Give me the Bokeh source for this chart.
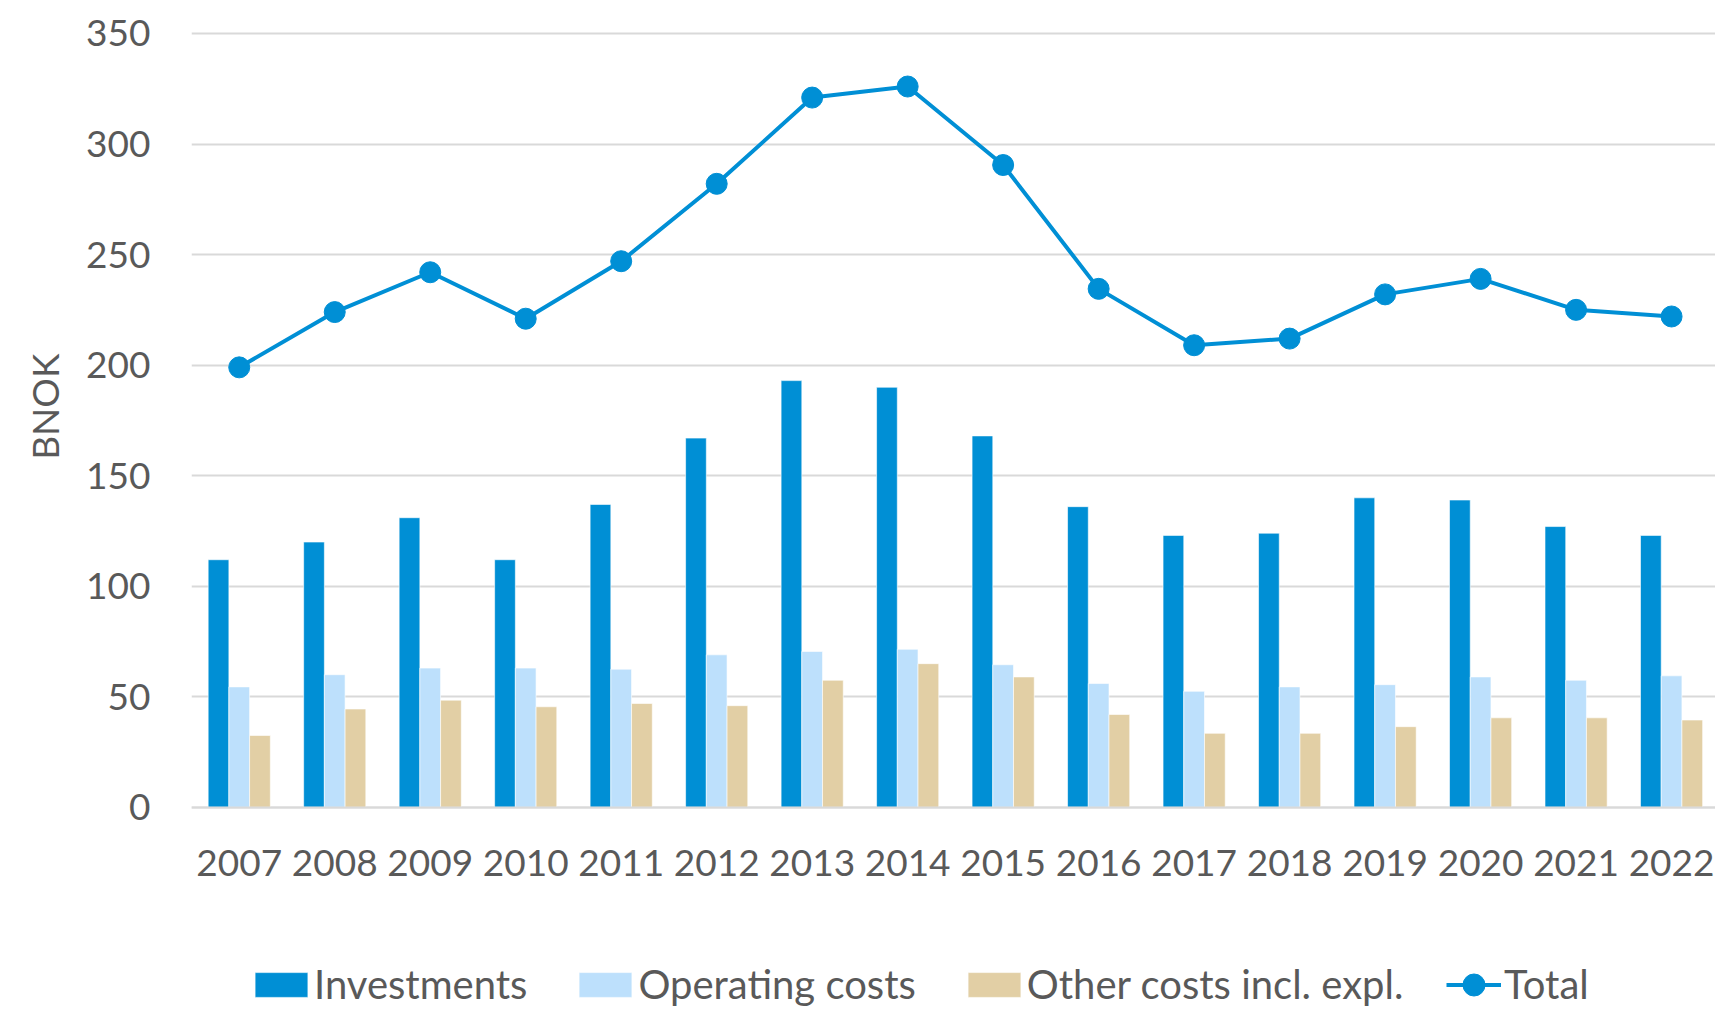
from bokeh.plotting import figure
from bokeh.models import FixedTicker, Legend, LegendItem, ColumnDataSource, Range1d, Title
from bokeh.transform import dodge
from bokeh.embed import file_html
from bokeh.resources import INLINE

years = [2007, 2008, 2009, 2010, 2011, 2012, 2013, 2014, 2015, 2016, 2017, 2018, 2019, 2020, 2021, 2022]
year_labels = ["2007", "2008", "2009", "2010", "2011", "2012", "2013", "2014",
               "2015", "2016", "2017", "2018", "2019", "2020", "2021", "2022"]
investments = [112, 120, 131, 112, 137, 167, 193, 190, 168, 136, 123, 124, 140, 139, 127, 123]
operating_costs = [54.5, 60, 63, 63, 62.5, 69, 70.5, 71.5, 64.5, 56, 52.5, 54.5, 55.5, 59, 57.5, 59.5]
other_costs = [32.5, 44.5, 48.5, 45.5, 47, 46, 57.5, 65, 59, 42, 33.5, 33.5, 36.5, 40.5, 40.5, 39.5]
total = [199, 224, 242, 221, 247, 282, 321, 326, 290.5, 234.5, 209, 212, 232, 239, 225, 222]
y_ticks = [0, 50, 100, 150, 200, 250, 300, 350]
series_names = ["Investments", "Operating costs", "Other costs incl. expl.", "Total"]
y_title = "BNOK"

C_INV = "#008FD5"
C_OP = "#BDE0FC"
C_OTH = "#E2CFA5"
TXT = "#595959"
FONT = "Lato"

src = ColumnDataSource(dict(year=years, inv=investments, op=operating_costs,
                            oth=other_costs, total=total))

# frame covers the whole height so the legend (inside the frame) can sit low;
# the x axis is pinned at y=0
Y_TOP = 364.9
p = figure(width=1715, height=1009, output_backend="svg", toolbar_location=None,
           x_range=Range1d(2006.5, 2022.46), y_range=Range1d(-91.4, Y_TOP),
           min_border_left=191, min_border_right=0, min_border_top=0,
           min_border_bottom=0)
p.outline_line_color = None
p.background_fill_color = "white"

bw = 0.217
r_inv = p.vbar(x=dodge("year", -bw, range=p.x_range), top="inv", width=bw, bottom=0,
               source=src, fill_color=C_INV, line_color="white", line_width=0.6)
r_op = p.vbar(x=dodge("year", 0, range=p.x_range), top="op", width=bw, bottom=0,
              source=src, fill_color=C_OP, line_color="white", line_width=0.6)
r_oth = p.vbar(x=dodge("year", bw, range=p.x_range), top="oth", width=bw, bottom=0,
               source=src, fill_color=C_OTH, line_color="white", line_width=0.6)
r_line = p.line("year", "total", source=src, line_color=C_INV, line_width=4)
r_pts = p.scatter("year", "total", source=src, size=21, fill_color=C_INV, line_color=C_INV)

p.xgrid.visible = False
p.ygrid.ticker = FixedTicker(ticks=y_ticks)
p.ygrid.grid_line_color = "#D9D9D9"
p.ygrid.grid_line_width = 2

yax = p.yaxis[0]
yax.ticker = FixedTicker(ticks=y_ticks)
yax.axis_line_color = None
yax.major_tick_line_color = None
yax.minor_tick_line_color = None
yax.major_label_standoff = 35
yax.major_label_text_font = FONT
yax.major_label_text_font_size = "37px"
yax.major_label_text_color = TXT

# y-axis title placed beside the 0-350 part of the axis
ytitle = Title(text=y_title, align="right", offset=353, standoff=34, text_font=FONT,
               text_font_size="37px", text_font_style="normal", text_color=TXT)
p.add_layout(ytitle, "left")

xax = p.xaxis[0]
xax.fixed_location = 0
xax.ticker = FixedTicker(ticks=years)
xax.major_label_overrides = {y: l for y, l in zip(years, year_labels)}
xax.axis_line_color = "#D9D9D9"
xax.axis_line_width = 2
xax.major_tick_line_color = None
xax.minor_tick_line_color = None
xax.major_label_standoff = 37
xax.major_label_text_font = FONT
xax.major_label_text_font_size = "37px"
xax.major_label_text_color = TXT

legend_bars = Legend(items=[
    LegendItem(label=series_names[0], renderers=[r_inv]),
    LegendItem(label=series_names[1], renderers=[r_op]),
    LegendItem(label=series_names[2], renderers=[r_oth]),
], orientation="horizontal", location=(57, 1), glyph_width=66, glyph_height=31,
    label_text_font=FONT, label_text_font_size="40px", label_text_color=TXT,
    label_standoff=0, spacing=45, padding=0, margin=0,
    border_line_color=None, background_fill_alpha=0)
p.add_layout(legend_bars)

legend_line = Legend(items=[
    LegendItem(label=series_names[3], renderers=[r_line, r_pts]),
], orientation="horizontal", location=(1255, -2.5), glyph_width=55, glyph_height=55,
    label_text_font=FONT, label_text_font_size="40px", label_text_color=TXT,
    label_standoff=3, spacing=0, padding=0, margin=0,
    border_line_color=None, background_fill_alpha=0)
p.add_layout(legend_line)

open("out.html", "w").write(file_html(p, INLINE))
